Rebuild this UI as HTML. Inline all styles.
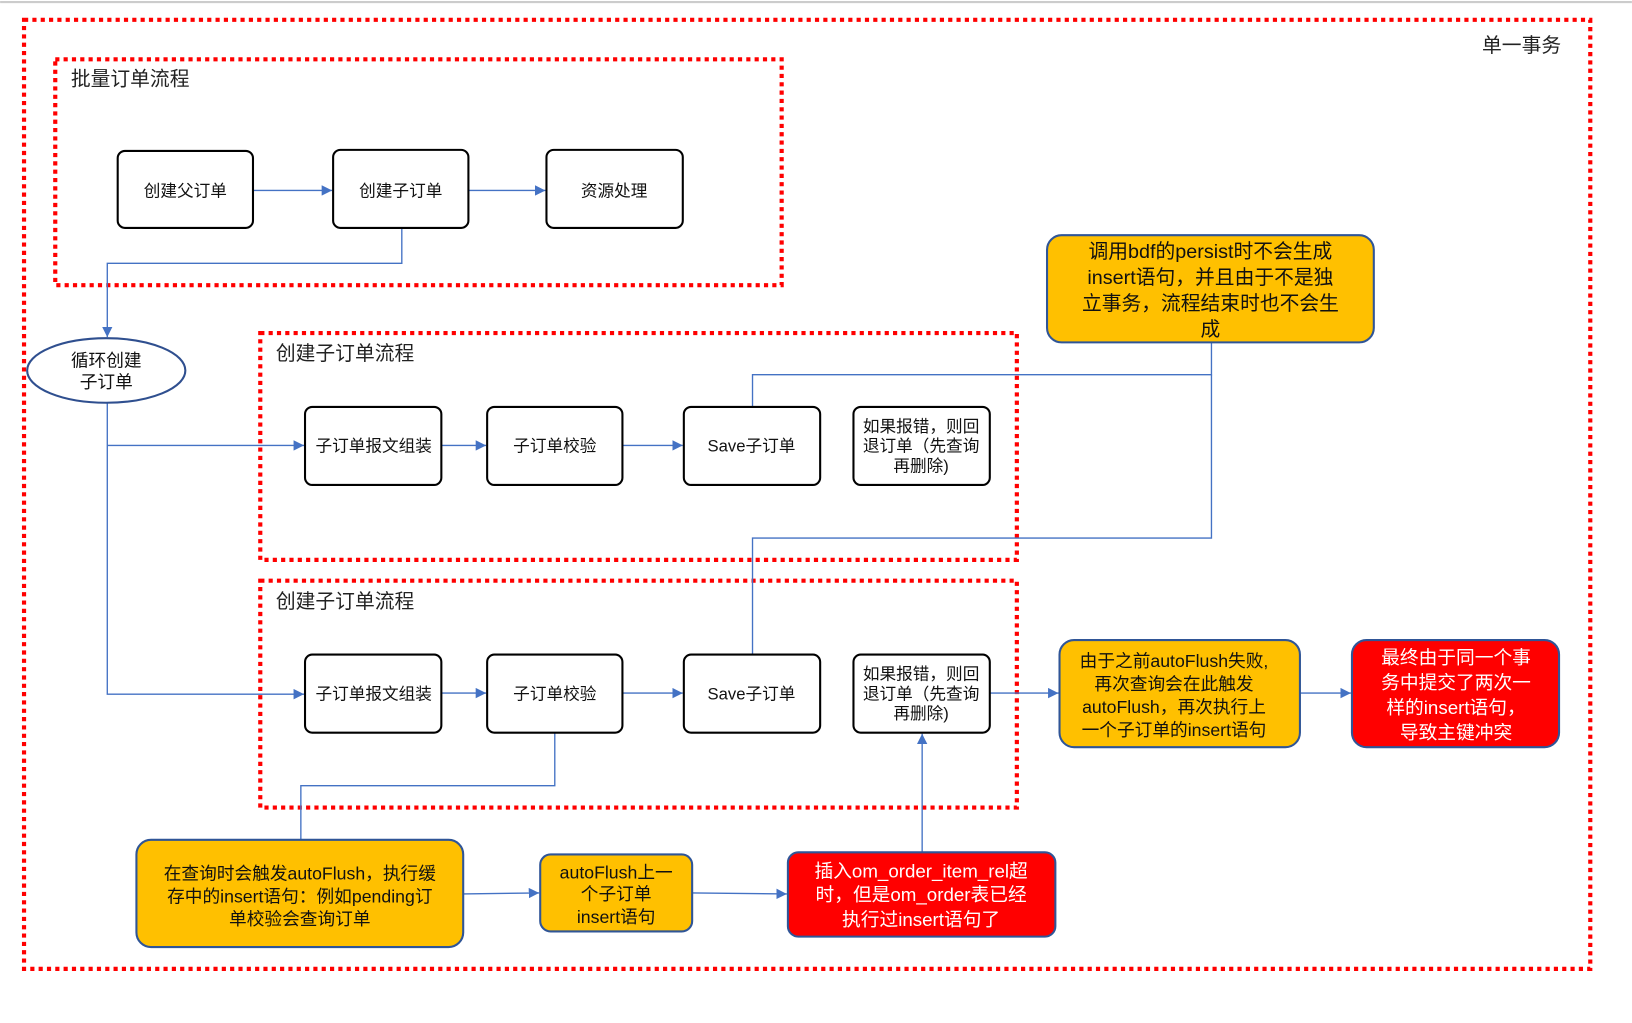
<!DOCTYPE html>
<html><head><meta charset="utf-8"><style>
html,body{margin:0;padding:0;background:#fff;}
svg{display:block;}
text{font-family:"Liberation Sans","Noto Sans CJK SC",sans-serif;}
</style></head><body>
<svg width="1632" height="1023" viewBox="0 0 1568 983" xmlns="http://www.w3.org/2000/svg">
<defs>
<marker id="a" viewBox="0 0 10 10" refX="10" refY="5" markerWidth="10" markerHeight="10" markerUnits="userSpaceOnUse" orient="auto"><path d="M0,0 L10,5 L0,10 z" fill="#4472c4"/></marker>
</defs>
<line x1="0" y1="2" x2="1568" y2="2" stroke="#ccc" stroke-width="2"/>
<g fill="none" stroke="#f00" stroke-width="4" stroke-dasharray="4 4">
<rect x="23" y="19" width="1505" height="912"/>
<rect x="53" y="57" width="698" height="217"/>
<rect x="250" y="320" width="727" height="218"/>
<rect x="250" y="558" width="727" height="218"/>
</g>
<g font-size="19" fill="#222">
<text x="1424" y="50">单一事务</text>
<text x="68" y="82">批量订单流程</text>
<text x="265" y="346">创建子订单流程</text>
<text x="265" y="584">创建子订单流程</text>
</g>
<g fill="none" stroke="#4472c4" stroke-width="1.3">
<line x1="243" y1="183" x2="319" y2="183" marker-end="url(#a)"/>
<line x1="450" y1="183" x2="524" y2="183" marker-end="url(#a)"/>
<polyline points="386,219 386,253 103,253 103,324" marker-end="url(#a)"/>
<polyline points="103,387 103,667 292,667" marker-end="url(#a)"/>
<line x1="103" y1="428" x2="292" y2="428" marker-end="url(#a)"/>
<line x1="424" y1="428" x2="467" y2="428" marker-end="url(#a)"/>
<line x1="598" y1="428" x2="656" y2="428" marker-end="url(#a)"/>
<line x1="424" y1="666" x2="467" y2="666" marker-end="url(#a)"/>
<line x1="598" y1="666" x2="656" y2="666" marker-end="url(#a)"/>
<polyline points="1164,329 1164,360 723,360 723,391"/>
<polyline points="1164,360 1164,517 723,517 723,629"/>
<line x1="951" y1="666" x2="1017" y2="666" marker-end="url(#a)"/>
<line x1="1249" y1="666" x2="1298" y2="666" marker-end="url(#a)"/>
<polyline points="533,704 533,755 289,755 289,807"/>
<line x1="445" y1="859" x2="518" y2="858" marker-end="url(#a)"/>
<line x1="665" y1="858" x2="756" y2="859" marker-end="url(#a)"/>
<line x1="886" y1="819" x2="886" y2="705" marker-end="url(#a)"/>
</g>
<g fill="#fff" stroke="#000" stroke-width="2">
<rect x="113" y="145" width="130" height="74" rx="7"/>
<rect x="320" y="144" width="130" height="75" rx="7"/>
<rect x="525" y="144" width="131" height="75" rx="7"/>
<rect x="293" y="391" width="131" height="75" rx="7"/>
<rect x="468" y="391" width="130" height="75" rx="7"/>
<rect x="657" y="391" width="131" height="75" rx="7"/>
<rect x="820" y="391" width="131" height="75" rx="7"/>
<rect x="293" y="629" width="131" height="75" rx="7"/>
<rect x="468" y="629" width="130" height="75" rx="7"/>
<rect x="657" y="629" width="131" height="75" rx="7"/>
<rect x="820" y="629" width="131" height="75" rx="7"/>
</g>
<ellipse cx="102" cy="356" rx="76" ry="31" fill="#fff" stroke="#2f4f8f" stroke-width="2"/>
<g stroke="#2f5597" stroke-width="2">
<rect x="1006" y="226" width="314" height="103" rx="14" fill="#ffc000"/>
<rect x="1018" y="615" width="231" height="103" rx="14" fill="#ffc000"/>
<rect x="1299" y="615" width="199" height="103" rx="14" fill="#f00"/>
<rect x="131" y="807" width="314" height="103" rx="14" fill="#ffc000"/>
<rect x="519" y="821" width="146" height="74" rx="10" fill="#ffc000"/>
<rect x="757" y="819" width="257" height="81" rx="10" fill="#f00"/>
</g>
<g font-size="16" fill="#111" text-anchor="middle">
<text x="178" y="189">创建父订单</text>
<text x="385" y="189">创建子订单</text>
<text x="590" y="189">资源处理</text>
<text x="102" y="352" font-size="17">循环创建</text>
<text x="102" y="373" font-size="17">子订单</text>
<text x="359" y="434">子订单报文组装</text>
<text x="533" y="434">子订单校验</text>
<text x="722" y="434">Save子订单</text>
<text x="885" y="415">如果报错，则回</text>
<text x="885" y="434">退订单（先查询</text>
<text x="885" y="453">再删除)</text>
<text x="359" y="672">子订单报文组装</text>
<text x="533" y="672">子订单校验</text>
<text x="722" y="672">Save子订单</text>
<text x="885" y="653">如果报错，则回</text>
<text x="885" y="672">退订单（先查询</text>
<text x="885" y="691">再删除)</text>
</g>
<g font-size="19" fill="#111" text-anchor="middle">
<text x="1163" y="248">调用bdf的persist时不会生成</text>
<text x="1163" y="273">insert语句，并且由于不是独</text>
<text x="1163" y="298">立事务，流程结束时也不会生</text>
<text x="1163" y="323">成</text>
</g>
<g font-size="17" fill="#111" text-anchor="middle">
<text x="1128" y="641">由于之前autoFlush失败,</text>
<text x="1128" y="663">再次查询会在此触发</text>
<text x="1128" y="685">autoFlush，再次执行上</text>
<text x="1128" y="707">一个子订单的insert语句</text>
<text x="288" y="845">在查询时会触发autoFlush，执行缓</text>
<text x="288" y="867">存中的insert语句：例如pending订</text>
<text x="288" y="889">单校验会查询订单</text>
<text x="592" y="844">autoFlush上一</text>
<text x="592" y="865">个子订单</text>
<text x="592" y="887">insert语句</text>
</g>
<g font-size="18" fill="#fff" text-anchor="middle">
<text x="1399" y="638">最终由于同一个事</text>
<text x="1399" y="662">务中提交了两次一</text>
<text x="1399" y="686">样的insert语句，</text>
<text x="1399" y="710">导致主键冲突</text>
<text x="885" y="843">插入om_order_item_rel超</text>
<text x="885" y="866">时，但是om_order表已经</text>
<text x="885" y="890">执行过insert语句了</text>
</g>
</svg>
</body></html>
